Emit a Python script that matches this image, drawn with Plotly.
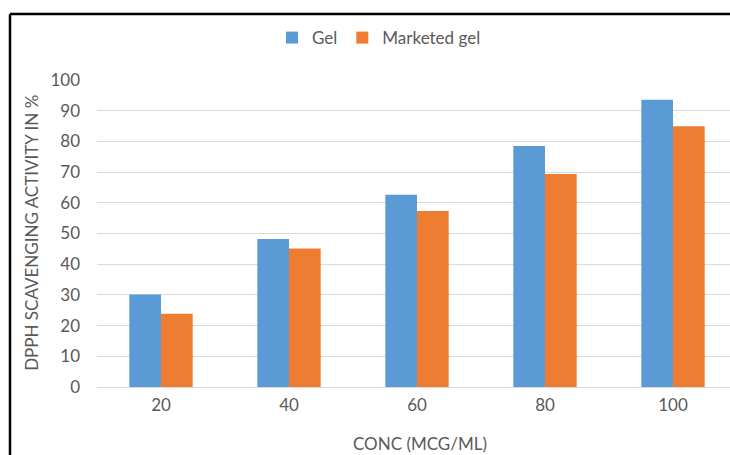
import plotly.graph_objects as go

categories = ["20", "40", "60", "80", "100"]
gel = [30.1, 48.2, 62.6, 78.5, 93.6]
marketed_gel = [23.9, 45.1, 57.3, 69.4, 84.9]
y_ticks = [0, 10, 20, 30, 40, 50, 60, 70, 80, 90, 100]

FONT = "Lato"
GRAY = "#595959"
FS = 17

fig = go.Figure()
fig.add_trace(go.Bar(name="Gel", x=categories, y=gel, marker_color="#5B9BD5",
                     marker_line_width=0))
fig.add_trace(go.Bar(name="Marketed gel", x=categories, y=marketed_gel, marker_color="#ED7D31",
                     marker_line_width=0))

L, T, W, H = 97, 80, 730, 455
PB = 387.3
pw = W - L
ph = PB - T

fig.update_layout(
    width=W, height=H,
    margin=dict(l=L, r=0, t=T, b=H - PB, autoexpand=False),
    paper_bgcolor="white", plot_bgcolor="white",
    barmode="group", bargap=0.505, bargroupgap=0,
    font=dict(family=FONT, size=FS, color=GRAY),
    showlegend=True,
    legend=dict(orientation="h", x=(379 - L) / pw, xanchor="center",
                y=(PB - 38) / ph, yanchor="middle",
                font=dict(family=FONT, size=FS, color=GRAY),
                itemwidth=30, tracegroupgap=0),
    xaxis=dict(range=[-0.5, -0.5 + pw / 128.0], showgrid=False, showline=False,
               ticks="", ticklabelstandoff=6, tickfont=dict(size=FS, color=GRAY),
               zeroline=False),
    yaxis=dict(range=[0, 100], tickvals=y_ticks, showgrid=True, gridcolor="#D9D9D9",
               gridwidth=1, zeroline=True, zerolinecolor="#D9D9D9", zerolinewidth=1,
               showline=False, ticks="", ticklabelstandoff=16,
               tickfont=dict(size=FS, color=GRAY)),
    annotations=[
        dict(text="DPPH SCAVENGING ACTIVITY IN %", xref="paper", yref="paper",
             x=(32 - L) / pw, y=(PB - 233) / ph, textangle=-90, showarrow=False,
             xanchor="center", yanchor="middle", font=dict(family=FONT, size=FS, color=GRAY)),
        dict(text="CONC (MCG/ML)", xref="paper", yref="paper",
             x=(420 - L) / pw, y=(PB - 444) / ph, showarrow=False,
             xanchor="center", yanchor="middle", font=dict(family=FONT, size=FS, color=GRAY)),
    ],
    shapes=[
        dict(type="line", xref="paper", yref="paper",
             x0=(10 - L) / pw, x1=(760 - L) / pw,
             y0=(PB - 14) / ph, y1=(PB - 14) / ph,
             line=dict(color="black", width=2.5), layer="above"),
        dict(type="line", xref="paper", yref="paper",
             x0=(10 - L) / pw, x1=(10 - L) / pw,
             y0=(PB - 14) / ph, y1=(PB - 480) / ph,
             line=dict(color="black", width=2.5), layer="above"),
    ],
)

fig.write_html("out.html",
               config={"displayModeBar": False},
               post_script="document.body.style.margin='0';document.body.style.overflow='hidden';")
